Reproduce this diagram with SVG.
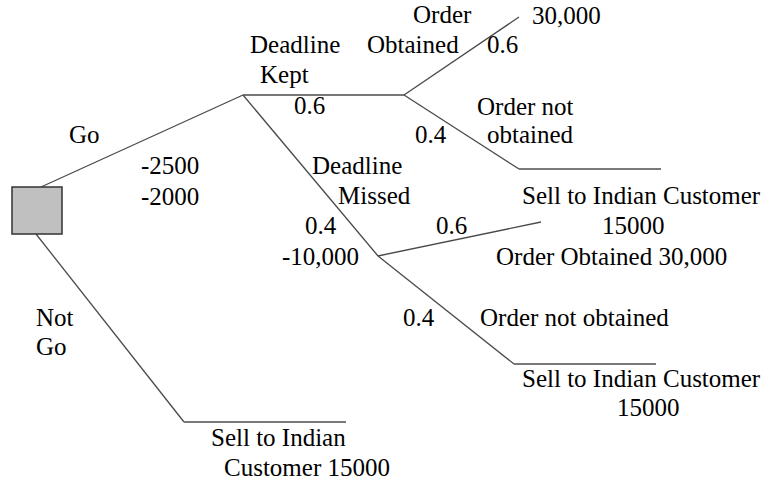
<svg xmlns="http://www.w3.org/2000/svg" width="768" height="481" viewBox="0 0 768 481">
  <rect width="768" height="481" fill="#fff"/>

  <!-- connectors -->
  <g id="connectors" fill="none">
    <g stroke="#4a4a4a" stroke-width="1.3">
      <line x1="41" y1="187" x2="243" y2="95"/>
      <line x1="243" y1="95" x2="404" y2="95"/>
      <line x1="243" y1="95" x2="378" y2="256"/>
      <line x1="404" y1="95" x2="519" y2="17"/>
      <line x1="404" y1="95" x2="519" y2="169"/>
      <line x1="378" y1="256" x2="541" y2="222"/>
      <line x1="378" y1="256" x2="514" y2="364"/>
      <line x1="36" y1="234" x2="184" y2="422"/>
    </g>
    <g stroke="#7a7a7a" stroke-width="2">
      <line x1="519" y1="169" x2="661" y2="169"/>
      <line x1="514" y1="364" x2="656" y2="364"/>
      <line x1="184" y1="422" x2="346" y2="422"/>
    </g>
  </g>

  <!-- decision node -->
  <g id="decision">
    <rect x="12" y="187" width="50" height="47" fill="#c0c0c0" stroke="#333" stroke-width="1.5"/>
  </g>

  <!-- branch labels -->
  <g id="labels" font-family="'Liberation Serif', serif" font-size="25" fill="#000">
    <g id="go">
      <text x="69" y="143">Go</text>
      <text x="141" y="174">-2500</text>
      <text x="141" y="205">-2000</text>
    </g>
    <g id="deadline-kept">
      <text x="250" y="53">Deadline</text>
      <text x="260" y="83">Kept</text>
      <text x="294" y="114">0.6</text>
    </g>
    <g id="order-obtained">
      <text x="413" y="23">Order</text>
      <text x="367" y="53">Obtained</text>
      <text x="487" y="53">0.6</text>
      <text x="532" y="24">30,000</text>
    </g>
    <g id="order-not-obtained">
      <text x="415" y="143">0.4</text>
      <text x="477" y="115">Order not</text>
      <text x="487" y="143">obtained</text>
    </g>
    <g id="deadline-missed">
      <text x="312" y="174">Deadline</text>
      <text x="338" y="204">Missed</text>
      <text x="305" y="234">0.4</text>
      <text x="282" y="265">-10,000</text>
    </g>
    <g id="missed-obtained">
      <text x="436" y="234">0.6</text>
      <text x="522" y="204">Sell to Indian Customer</text>
      <text x="602" y="234">15000</text>
      <text x="496" y="265">Order Obtained 30,000</text>
    </g>
    <g id="missed-not-obtained">
      <text x="403" y="326">0.4</text>
      <text x="480" y="326">Order not obtained</text>
      <text x="522" y="387">Sell to Indian Customer</text>
      <text x="617" y="416">15000</text>
    </g>
    <g id="not-go">
      <text x="36" y="326">Not</text>
      <text x="36" y="355">Go</text>
      <text x="211" y="446">Sell to Indian</text>
      <text x="224" y="476">Customer 15000</text>
    </g>
  </g>
</svg>
